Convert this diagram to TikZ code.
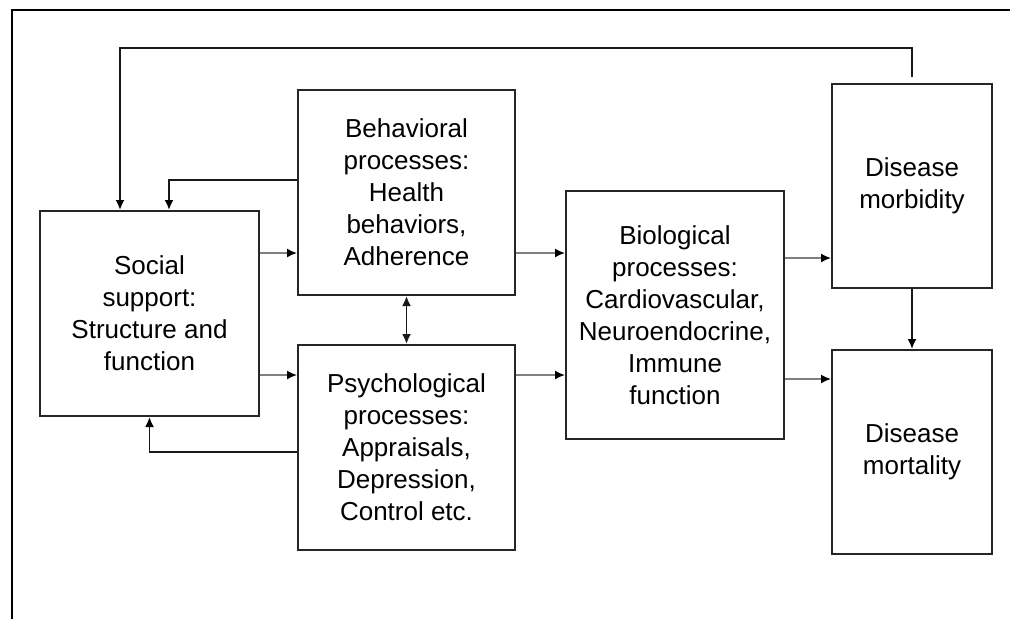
\documentclass[tikz,border=0pt]{standalone}
\usepackage{fontspec}
\setmainfont{Liberation Sans}
\usetikzlibrary{arrows.meta}
\tikzset{
  box/.style={draw=black!85, line width=2pt, align=center,
    font=\fontsize{26}{32}\selectfont, inner sep=0pt},
  flow/.style={draw=black!50, line width=1.6pt,
    -{Latex[length=10pt,width=9pt,color=black]}},
  back/.style={draw=black!90, line width=1.8pt,
    -{Latex[length=10pt,width=9pt,color=black]}},
  both/.style={draw=black!90, line width=1.8pt,
    {Latex[length=10pt,width=9pt]}-{Latex[length=10pt,width=9pt]}}
}
\begin{document}
\begin{tikzpicture}[x=1pt,y=-1pt]
    \useasboundingbox (0,0) rectangle (1011,619);

    % frame
    \draw [line width=2pt] (12,619) -- (12,10) -- (1010,10);

    \node [box, minimum width=219pt, minimum height=205pt] (soc) at (149.5, 313.5) {Social\\support:\\Structure and\\function};
	\node [box, minimum width=217pt, minimum height=205pt] (beh) at (406.5, 192.5) {Behavioral\\processes:\\Health\\behaviors,\\Adherence};
	\node [box, minimum width=217pt, minimum height=205pt] (psy) at (406.5, 447.5) {Psychological\\processes:\\Appraisals,\\Depression,\\Control etc.};
	\node [box, minimum width=218pt, minimum height=248pt] (bio) at (675, 315) {Biological\\processes:\\Cardiovascular,\\Neuroendocrine,\\Immune\\function};
	\node [box, minimum width=160pt, minimum height=204pt] (morb) at (912, 186) {Disease\\morbidity};
	\node [box, minimum width=160pt, minimum height=204pt] (mort) at (912, 452) {Disease\\mortality};
	% edges
	\draw [flow] (soc.east |- 0,253) to (beh.west |- 0,253);
	\draw [flow] (soc.east |- 0,375) to (psy.west |- 0,375);
	\draw [flow] (beh.east |- 0,253) to (bio.west |- 0,253);
	\draw [flow] (psy.east |- 0,375) to (bio.west |- 0,375);
	\draw [flow] (bio.east |- 0,258) to (morb.west |- 0,258);
	\draw [flow] (bio.east |- 0,379) to (mort.west |- 0,379);
	\draw [back] (morb.south) to (mort.north);
	\draw [both] (beh.south) to (psy.north);
	% feedback
	\draw [back] ([yshift=6pt]morb.north) |- (120,48) to (soc.north -| 120,0);
	\draw [back] (beh.west |- 0,180) -| (soc.north -| 169,0);
	\draw [back] (psy.west |- 0,452) -| (soc.south);
\end{tikzpicture}
\end{document}
